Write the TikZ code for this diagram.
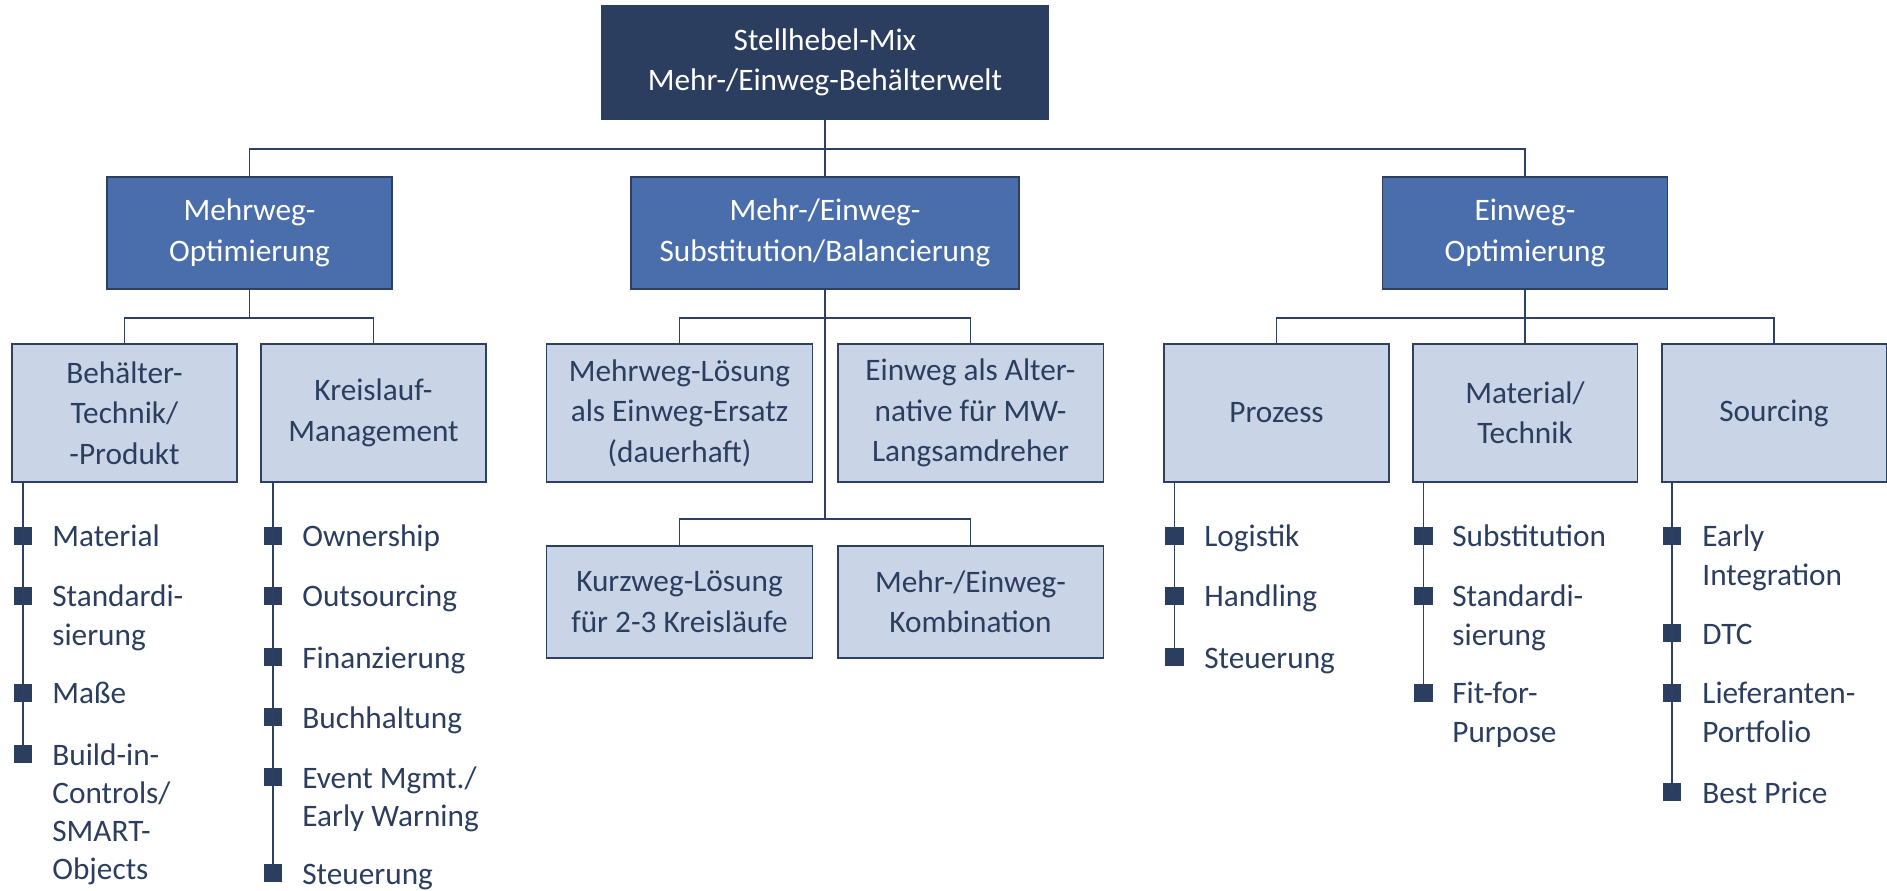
\documentclass[tikz,border=0pt]{standalone}
\usepackage{fontspec}
\setmainfont{Carlito}
\usepackage{tikz}
\definecolor{navy}{RGB}{44, 62, 95}
\definecolor{midblue}{RGB}{74, 110, 171}
\definecolor{paleblue}{RGB}{201, 212, 230}
\definecolor{lineblue}{RGB}{45, 64, 98}

\begin{document}
\begin{tikzpicture}[x=0.02cm, y=-0.02cm,
  rootbox/.style={rectangle, draw=navy, fill=navy, text=white, line width=1pt, inner sep=0pt,
    minimum width=8.92cm, minimum height=2.26cm, align=center, font=\fontsize{17.8}{23}\selectfont},
  mainbox/.style={rectangle, draw=lineblue, fill=midblue, text=white, line width=1pt, inner sep=0pt,
    minimum width=5.7cm, minimum height=2.24cm, align=center, font=\fontsize{17.8}{23}\selectfont},
  subbox/.style={rectangle, draw=lineblue, fill=paleblue, text=navy, line width=1.1pt, inner sep=0pt,
    minimum width=4.5cm, minimum height=2.76cm, align=center, font=\fontsize{17.8}{23}\selectfont},
  conn/.style={draw=lineblue, line width=1.1pt},
  bul/.style={rectangle, fill=navy, inner sep=0pt, minimum size=0.37cm},
  itm/.style={anchor=base west, inner sep=0pt, text width=4cm, align=left, text=navy,
    font=\fontsize{17.8}{21.8}\selectfont, execute at begin node={\spaceskip=0pt\relax}}]
\useasboundingbox (0,0) rectangle (1887,891);

% Top levels
\node[rootbox] (root) at (825,62.5) {Stellhebel-Mix\\Mehr-/Einweg-Behälterwelt};
\node[mainbox] (mwopt) at (249.5,233) {Mehrweg-\\Optimierung};
\node[mainbox, minimum width=7.76cm] (subst) at (825,233) {Mehr-/Einweg-\\Substitution/Balancierung};
\node[mainbox] (ewopt) at (1525,233) {Einweg-\\Optimierung};

% Third level
\node[subbox] (bt) at (124.5,413) {Behälter-\\Technik/\\-Produkt};
\node[subbox] (kl) at (373.5,413) {Kreislauf-\\Management};
\node[subbox, minimum width=5.32cm] (mwl) at (679.5,413) {Mehrweg-Lösung\\als Einweg-Ersatz\\(dauerhaft)};
\node[subbox, minimum width=5.32cm] (ewa) at (970.5,413) {Einweg als Alter-\\native für MW-\\Langsamdreher};
\node[subbox, minimum width=5.32cm, minimum height=2.24cm] (kwl) at (679.5,601.7) {Kurzweg-Lösung\\für 2-3 Kreisläufe};
\node[subbox, minimum width=5.32cm, minimum height=2.24cm] (mek) at (970.5,601.7) {Mehr-/Einweg-\\Kombination};
\node[subbox] (proz) at (1276.5,413) {Prozess};
\node[subbox] (mt) at (1525,413) {Material/\\Technik};
\node[subbox] (src) at (1774,413) {Sourcing};

% Tree lines
\draw[conn] (root.south) -- (subst.north);
\draw[conn] (root.south) -- ++(0,29) -| (mwopt.north);
\draw[conn] (root.south) -- ++(0,29) -| (ewopt.north);
\draw[conn] (mwopt.south) -- ++(0,28) -| (bt.north);
\draw[conn] (mwopt.south) -- ++(0,28) -| (kl.north);
\draw[conn] (subst.south) -- ++(0,28) -| (mwl.north);
\draw[conn] (subst.south) -- ++(0,28) -| (ewa.north);
\draw[conn] (subst.south) -- ++(0,229) -| (kwl.north);
\draw[conn] (subst.south) -- ++(0,229) -| (mek.north);
\draw[conn] (ewopt.south) -- ++(0,28) -| (proz.north);
\draw[conn] (ewopt.south) -- (mt.north);
\draw[conn] (ewopt.south) -- ++(0,28) -| (src.north);

% Behaelter list
\node[bul] (bt1) at (23,536) {};
\node[bul] (bt2) at (23,596) {};
\node[bul] (bt3) at (23,693) {};
\node[bul] (bt4) at (23,754) {};
\draw[conn] (bt4 |- bt.south) -- (bt4.center);
\node[itm] (bt1t) at (52,547) {Material};
\node[itm] (bt2t) at (52,607) {Standardi-\\sierung};
\node[itm] (bt3t) at (52,704) {Maße};
\node[itm] (bt4t) at (52,765) {Build-in-\\Controls/\\SMART-\\Objects};

% Kreislauf list
\node[bul] (kl1) at (273,536) {};
\node[bul] (kl2) at (273,596) {};
\node[bul] (kl3) at (273,657) {};
\node[bul] (kl4) at (273,717) {};
\node[bul] (kl5) at (273,777) {};
\node[bul] (kl6) at (273,873) {};
\draw[conn] (kl6 |- kl.south) -- (kl6.center);
\node[itm] (kl1t) at (302,547) {Ownership};
\node[itm] (kl2t) at (302,607) {Outsourcing};
\node[itm] (kl3t) at (302,668) {Finanzierung};
\node[itm] (kl4t) at (302,728) {Buchhaltung};
\node[itm] (kl5t) at (302,788) {Event Mgmt./\\Early Warning};
\node[itm] (kl6t) at (302,884) {Steuerung};

% Prozess list
\node[bul] (pz1) at (1174.5,536) {};
\node[bul] (pz2) at (1174.5,596) {};
\node[bul] (pz3) at (1174.5,657) {};
\draw[conn] (pz3 |- proz.south) -- (pz3.center);
\node[itm] (pz1t) at (1204,547) {Logistik};
\node[itm] (pz2t) at (1204,607) {Handling};
\node[itm] (pz3t) at (1204,668) {Steuerung};

% Material/Technik list
\node[bul] (mt1) at (1423.5,536) {};
\node[bul] (mt2) at (1423.5,596) {};
\node[bul] (mt3) at (1423.5,693) {};
\draw[conn] (mt3 |- mt.south) -- (mt3.center);
\node[itm] (mt1t) at (1452,547) {Substitution};
\node[itm] (mt2t) at (1452,607) {Standardi-\\sierung};
\node[itm] (mt3t) at (1452,704) {Fit-for-\\Purpose};

% Sourcing list
\node[bul] (sc1) at (1672,536) {};
\node[bul] (sc2) at (1672,633) {};
\node[bul] (sc3) at (1672,693) {};
\node[bul] (sc4) at (1672,792) {};
\draw[conn] (sc4 |- src.south) -- (sc4.center);
\node[itm] (sc1t) at (1702,547) {Early\\Integration};
\node[itm] (sc2t) at (1702,644) {DTC};
\node[itm] (sc3t) at (1702,704) {Lieferanten-\\Portfolio};
\node[itm] (sc4t) at (1702,803) {Best Price};
\end{tikzpicture}
\end{document}
